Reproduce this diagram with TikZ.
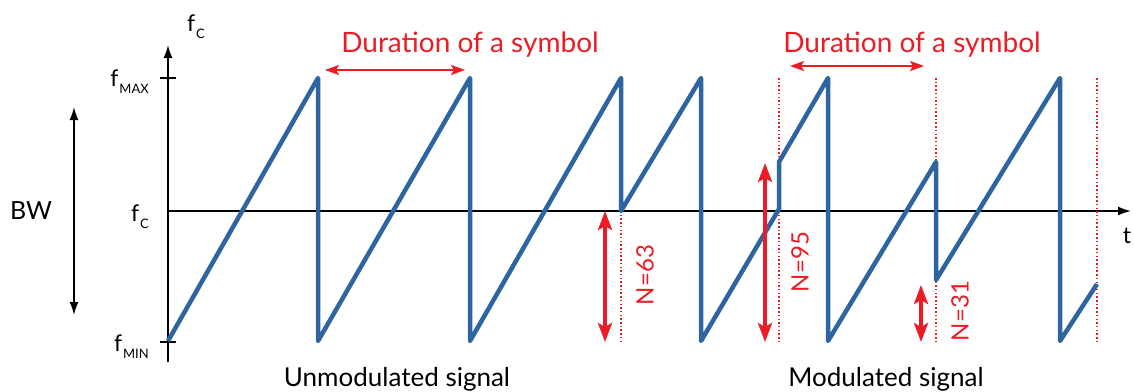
\documentclass[tikz,border=0pt]{standalone}
\usepackage{fontspec}
\setmainfont{Lato}
\usetikzlibrary{arrows.meta}
\definecolor{sigblue}{RGB}{46,100,160}
\definecolor{mred}{RGB}{236,28,36}
\newcommand\fsub[1]{f\kern1pt\raisebox{-7pt}{\fontsize{13}{13}\selectfont #1}}
\begin{document}
\begin{tikzpicture}[x=1pt,y=-1pt,
  axis/.style={black,line width=1.6pt},
  axarrow/.style={axis,-{Latex[length=13pt,width=9pt]}},
  bwarrow/.style={axis,{Latex[length=13pt,width=9pt]}-{Latex[length=13pt,width=9pt]}},
  lab/.style={font=\fontsize{23}{25}\selectfont,inner sep=0pt},
  sig/.style={sigblue,line width=4.5pt,line join=round},
  sep/.style={mred,line width=1.5pt,dash pattern=on 1.5pt off 2.2pt},
  bigarrow/.style={mred,line width=3.5pt,{Stealth[length=19pt,width=14pt,inset=4pt]}-{Stealth[length=19pt,width=14pt,inset=4pt]}},
  durarrow/.style={mred,line width=1.8pt,{Stealth[length=14pt,width=10pt,inset=3pt]}-{Stealth[length=14pt,width=10pt,inset=3pt]}},
  redlab/.style={text=mred,font=\fontsize{28}{30}\selectfont,inner sep=0pt},
  nlab/.style={text=mred,font=\fontsize{24}{26}\selectfont,inner sep=0pt,rotate=90},
  botlab/.style={font=\fontsize{26}{28}\selectfont,inner sep=0pt,anchor=base}
]
\useasboundingbox (0,0) rectangle (1134,391);
% axes
\draw[axarrow] (168,362) -- (168,45);
\draw[axarrow] (168,211) -- (1131,211);
\draw[axis] (160,78) -- (176,78);
\draw[axis] (160,342) -- (176,342);
\draw[bwarrow] (74,107) -- (74,315);
% axis labels
\node[lab] (fctop) at (196,27) {\fsub{C}};
\node[lab,anchor=east] (fmax) at (149,82) {\fsub{MAX}};
\node[lab,anchor=east] (fc) at (149,217) {\fsub{C}};
\node[lab,anchor=east] (fmin) at (149,347) {\fsub{MIN}};
\node[lab,anchor=base,font=\fontsize{25}{27}\selectfont] (bw) at (31,219) {BW};
\node[lab,anchor=base] (t) at (1127,243) {t};
% symbol boundaries
\draw[sep] (621,211) -- (621,343);
\draw[sep] (779,78) -- (779,343);
\draw[sep] (936,78) -- (936,343);
\draw[sep] (1097,78) -- (1097,343);
% signal
\draw[sig] (168,341) -- (318,78) -- (318,341) -- (470,78) -- (470,341)
  -- (621,78) -- (621,211) -- (701,78) -- (701,341) -- (779,209)
  -- (779,162) -- (828,78) -- (828,341) -- (936,162) -- (936,280)
  -- (1060,78) -- (1060,341) -- (1097,284);
% shift arrows
\draw[bigarrow] (605,211) -- (605,342);
\draw[bigarrow] (765,163) -- (765,342);
\draw[bigarrow] (921,285) -- (921,342);
\node[nlab] (n63) at (645,275) {N=63};
\node[nlab] (n95) at (800,262) {N=95};
\node[nlab] (n31) at (960,311) {N=31};
% durations
\draw[durarrow] (325,70) -- (465,70);
\draw[durarrow] (790,66) -- (924,66);
\node[redlab,anchor=base] (dur1) at (470,52) {Duration of a symbol};
\node[redlab,anchor=base] (dur2) at (912,52) {Duration of a symbol};
% bottom labels
\node[botlab] (unmod) at (397,386) {Unmodulated signal};
\node[botlab] (mod) at (886,386) {Modulated signal};
\end{tikzpicture}
\end{document}
